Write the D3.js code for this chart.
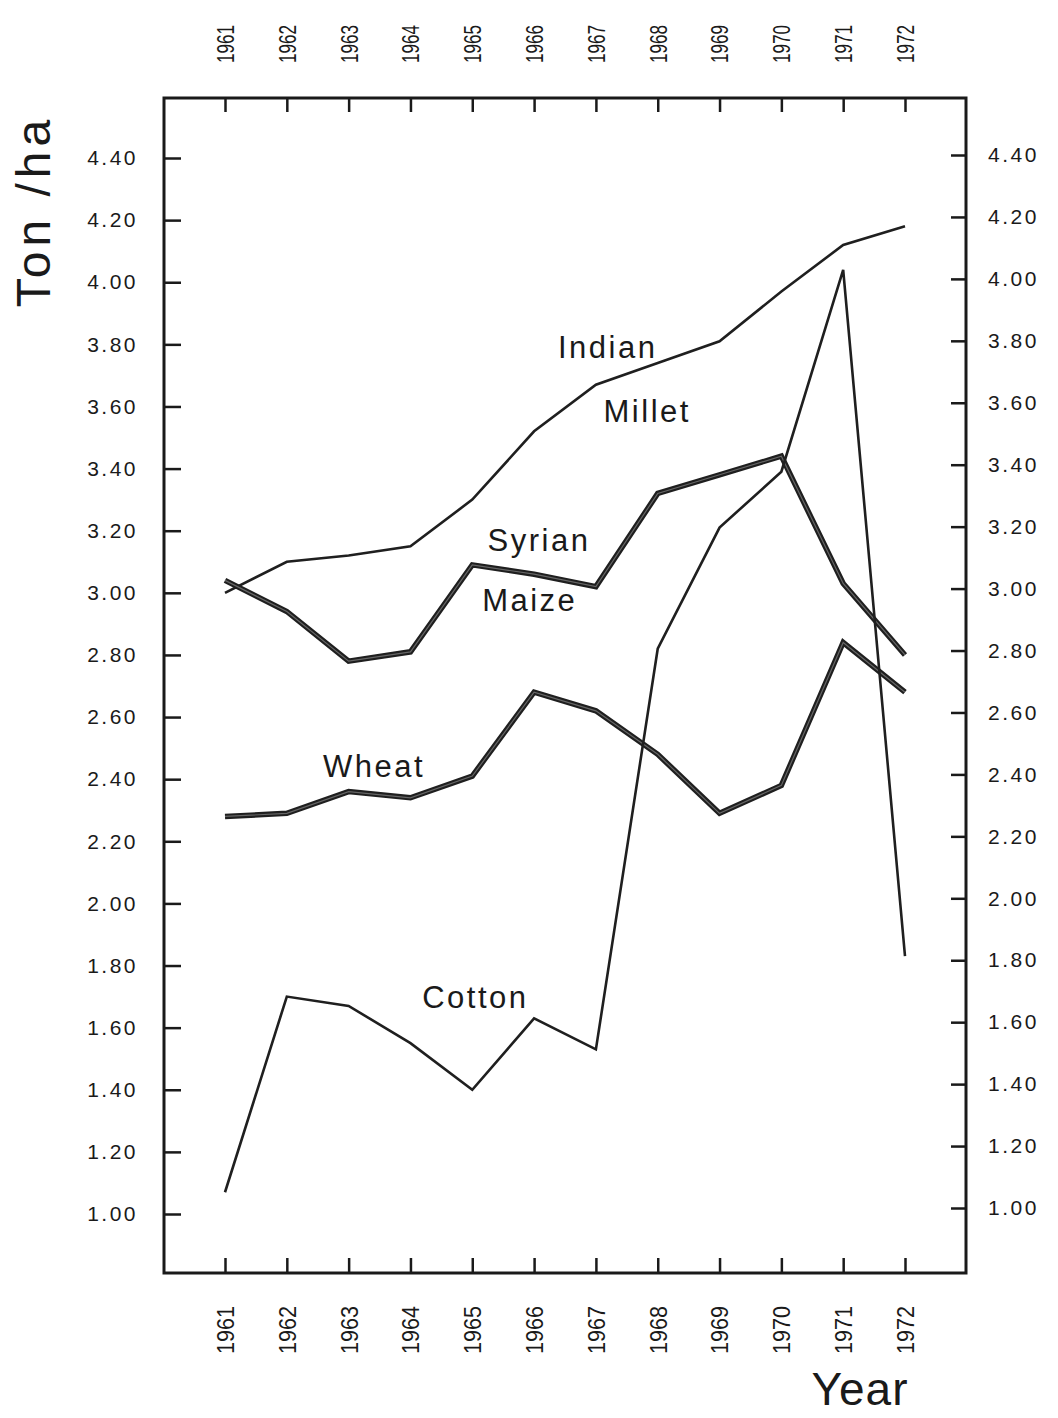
<!DOCTYPE html>
<html>
<head>
<meta charset="utf-8">
<script src="https://cdn.jsdelivr.net/npm/d3@7"></script>
<style>
  html, body { margin: 0; padding: 0; background: #fff; }
  svg { display: block; }
  text { font-family: "Liberation Sans", Arial, sans-serif; fill: #1a1a1a; }
</style>
</head>
<body>
<svg id="chart" width="1058" height="1418"></svg>
<script>
// Yields in ton per hectare, 1961-1972
const years = [1961, 1962, 1963, 1964, 1965, 1966, 1967, 1968, 1969, 1970, 1971, 1972];
const indianMillet = [3.00, 3.10, 3.12, 3.15, 3.30, 3.52, 3.67, 3.74, 3.81, 3.97, 4.12, 4.18];
const syrianMaize  = [3.04, 2.94, 2.78, 2.81, 3.09, 3.06, 3.02, 3.32, 3.38, 3.44, 3.03, 2.80];
const wheat        = [2.28, 2.29, 2.36, 2.34, 2.41, 2.68, 2.62, 2.48, 2.29, 2.38, 2.84, 2.68];
const cotton       = [1.07, 1.70, 1.67, 1.55, 1.40, 1.63, 1.53, 2.82, 3.21, 3.39, 4.04, 1.83];

const yTicks = [1.00, 1.20, 1.40, 1.60, 1.80, 2.00, 2.20, 2.40, 2.60, 2.80,
                3.00, 3.20, 3.40, 3.60, 3.80, 4.00, 4.20, 4.40];

const svg = d3.select("#chart");

// frame of the plot
const frame = { left: 164, right: 966, top: 98, bottom: 1273 };

const x = d3.scaleLinear().domain([1961, 1972]).range([225, 905]);
const yLeft = d3.scaleLinear().domain([1, 4.4]).range([1214, 158]);
const yRight = d3.scaleLinear().domain([1, 4.4]).range([1208, 155]);

const fmt = d3.format(".2f");

// left axis: ticks point into the plot
const gLeft = svg.append("g")
  .attr("transform", `translate(${frame.left},0)`)
  .call(d3.axisLeft(yLeft).tickValues(yTicks).tickFormat(fmt)
    .tickSizeInner(-17).tickSizeOuter(0).tickPadding(26));

// right axis
const gRight = svg.append("g")
  .attr("transform", `translate(${frame.right},0)`)
  .call(d3.axisRight(yRight).tickValues(yTicks).tickFormat(fmt)
    .tickSizeInner(-15).tickSizeOuter(0).tickPadding(22));

// top axis
const gTop = svg.append("g")
  .attr("transform", `translate(0,${frame.top})`)
  .call(d3.axisTop(x).tickValues(years).tickFormat(d3.format("d"))
    .tickSizeInner(-14).tickSizeOuter(0));

// bottom axis
const gBottom = svg.append("g")
  .attr("transform", `translate(0,${frame.bottom})`)
  .call(d3.axisBottom(x).tickValues(years).tickFormat(d3.format("d"))
    .tickSizeInner(-15).tickSizeOuter(0));

[gLeft, gRight, gTop, gBottom].forEach(g => {
  g.select(".domain").remove();
  g.selectAll(".tick line").attr("stroke", "#1a1a1a").attr("stroke-width", 2.5);
  g.selectAll(".tick text").attr("fill", "#1a1a1a").attr("font-size", 21)
    .attr("letter-spacing", 2.5);
});

// year labels run vertically
gTop.selectAll(".tick text")
  .attr("transform", "translate(0,-54) rotate(-90)")
  .attr("x", 0).attr("y", 0).attr("dy", "0.35em")
  .attr("text-anchor", "middle")
  .attr("letter-spacing", 0)
  .attr("font-size", 24)
  .attr("textLength", 38).attr("lengthAdjust", "spacingAndGlyphs");

gBottom.selectAll(".tick text")
  .attr("transform", "translate(0,57) rotate(-90)")
  .attr("x", 0).attr("y", 0).attr("dy", "0.35em")
  .attr("text-anchor", "middle")
  .attr("letter-spacing", 0)
  .attr("font-size", 24)
  .attr("textLength", 48).attr("lengthAdjust", "spacingAndGlyphs");

// plot frame
svg.append("rect")
  .attr("x", frame.left).attr("y", frame.top)
  .attr("width", frame.right - frame.left).attr("height", frame.bottom - frame.top)
  .attr("fill", "none").attr("stroke", "#1a1a1a").attr("stroke-width", 3);

// series lines
const line = d3.line().x((d, i) => x(years[i])).y(d => yLeft(d));

const series = [
  { values: indianMillet, heavy: false },
  { values: syrianMaize,  heavy: true },
  { values: wheat,        heavy: true },
  { values: cotton,       heavy: false }
];

series.forEach(s => {
  svg.append("path").datum(s.values)
    .attr("d", line)
    .attr("fill", "none")
    .attr("stroke", "#1f1f1f")
    .attr("stroke-width", s.heavy ? 5.5 : 2.6)
    .attr("stroke-linejoin", "miter");
  if (s.heavy) {
    svg.append("path").datum(s.values)
      .attr("d", line)
      .attr("fill", "none")
      .attr("stroke", "#666")
      .attr("stroke-width", 1.2);
  }
});

// series names, placed in data coordinates
const seriesNames = [
  { text: "Indian", year: 1967.19, value: 3.756 },
  { text: "Millet", year: 1967.83, value: 3.55 },
  { text: "Syrian", year: 1966.08, value: 3.135 },
  { text: "Maize",  year: 1965.93, value: 2.94 },
  { text: "Wheat",  year: 1963.41, value: 2.407 },
  { text: "Cotton", year: 1965.05, value: 1.663 }
];

svg.selectAll("text.series-name").data(seriesNames).join("text")
  .attr("class", "series-name")
  .attr("x", d => x(d.year))
  .attr("y", d => yLeft(d.value))
  .attr("text-anchor", "middle")
  .attr("font-size", 31)
  .attr("letter-spacing", 2.5)
  .text(d => d.text);

// axis titles
svg.append("text")
  .attr("transform", "translate(50,211) rotate(-90)")
  .attr("text-anchor", "middle")
  .attr("font-size", 48)
  .attr("letter-spacing", 5)
  .text("Ton /ha");

svg.append("text")
  .attr("x", 860).attr("y", 1405)
  .attr("text-anchor", "middle")
  .attr("font-size", 46)
  .attr("letter-spacing", 1)
  .text("Year");
</script>
</body>
</html>
